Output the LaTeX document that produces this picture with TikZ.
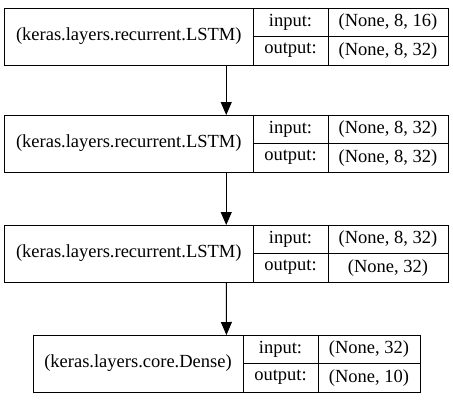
\documentclass[tikz,border=0pt]{standalone}
\usepackage{fontspec}
\setmainfont{Liberation Serif}
\usepackage{tikz}
\usetikzlibrary{arrows.meta,positioning,calc}

\begin{document}
\begin{tikzpicture}[
  x=1pt, y=-1pt,
  font=\fontsize{18.5}{20}\selectfont,
  rec/.style  = {draw, line width=0.9pt, inner sep=0pt, outer sep=0pt, anchor=north west},
  cell/.style = {draw, line width=0.9pt, inner sep=0pt, outer sep=0pt, anchor=north west, align=center},
  ar/.style   = {-{Triangle[length=13pt, width=11pt]}, line width=0.9pt}
]
\useasboundingbox (0,0) rectangle (453,400);

% ---------- layer records ------------------------------------------------
% name / left / top / label col / key col / value col / label / in / out
\foreach \n/\x/\y/\wa/\wb/\wc/\lbl/\vin/\vout in {
  l1/4.5/8/248.5/75/120/{(keras.layers.recurrent.LSTM)}/{(None, 8, 16)}/{(None, 8, 32)},
  l2/4.5/115/248.5/75/120/{(keras.layers.recurrent.LSTM)}/{(None, 8, 32)}/{(None, 8, 32)},
  l3/4.5/225/248.5/75/120/{(keras.layers.recurrent.LSTM)}/{(None, 8, 32)}/{(None, 32)},
  l4/33/335/210/75/102/{(keras.layers.core.Dense)}/{(None, 32)}/{(None, 10)}}{
  \node[rec, minimum width={(\wa+\wb+\wc)*1pt}, minimum height=57pt] (\n) at (\x,\y) {};
  \node[cell, minimum width=\wa pt, minimum height=57pt] (\n-lbl) at (\x,\y) {\lbl};
  \node[cell, minimum width=\wb pt, minimum height=28.5pt] (\n-ki) at (\n-lbl.north east) {input:};
  \node[cell, minimum width=\wc pt, minimum height=28.5pt] (\n-vi) at (\n-ki.north east) {\vin};
  \node[cell, minimum width=\wb pt, minimum height=28.5pt] (\n-ko) at (\n-ki.south west) {output:};
  \node[cell, minimum width=\wc pt, minimum height=28.5pt] (\n-vo) at (\n-ko.north east) {\vout};
}

% ---------- connectors ---------------------------------------------------
\foreach \a/\b in {l1/l2, l2/l3, l3/l4}{
  \draw[ar] (\a) -- (\b);}

\end{tikzpicture}
\end{document}
